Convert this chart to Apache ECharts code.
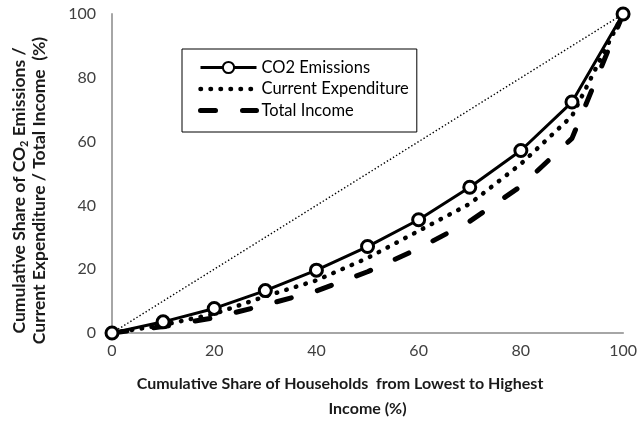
<!DOCTYPE html>
<html>
<head>
<meta charset="utf-8">
<script src="https://cdn.jsdelivr.net/npm/echarts@6/dist/echarts.min.js"></script>
<style>
  html, body { margin: 0; padding: 0; background: #fff; }
  #chart { width: 640px; height: 424px; }
</style>
</head>
<body>
<div id="chart"></div>
<script>
// Cumulative share of households, lowest to highest income (%)
const householdShare = [0, 10, 20, 30, 40, 50, 60, 70, 80, 90, 100];
// Cumulative shares (%) for each measure
const co2Emissions = [0, 3.5, 7.7, 13.3, 19.7, 27.1, 35.5, 45.7, 57.2, 72.4, 100];
const currentExpenditure = [0, 2.5, 6.0, 11.5, 16.5, 23.5, 32.0, 40.5, 53.0, 68.0, 100];
const totalIncome = [0, 2.0, 4.8, 8.8, 13.2, 19.2, 26.5, 35.0, 46.0, 61.0, 100];
// Line of perfect equality
const equalityLine = [0, 100];
const yTicks = [0, 20, 40, 60, 80, 100];

const pairs = (ys) => householdShare.map((x, i) => [x, ys[i]]);

const FONT = 'Lato, "Open Sans", sans-serif';
const dottedStyle = { color: '#000', width: 4.5, type: [0.5, 9.5], cap: 'round' };
const dashedStyle = { color: '#000', width: 5, type: [15, 27], cap: 'round' };
const solidStyle = { color: '#000', width: 3 };

const chart = echarts.init(document.getElementById('chart'), null, { renderer: 'canvas' });

chart.setOption({
  animation: false,
  backgroundColor: '#ffffff',
  textStyle: { fontFamily: FONT },
  grid: { left: 112, right: 13, top: 14, bottom: 91, containLabel: false },
  legend: {
    orient: 'vertical',
    left: 182,
    top: 49,
    padding: [10, 8, 13, 16],
    itemGap: 4.5,
    itemWidth: 56,
    itemHeight: 14,
    borderColor: '#000',
    borderWidth: 1,
    backgroundColor: '#fff',
    textStyle: { fontFamily: FONT, fontSize: 16.5, color: '#000' },
    data: [
      { name: 'CO2 Emissions', lineStyle: solidStyle },
      // no marker on the dotted and dashed legend keys
      { name: 'Current Expenditure', itemStyle: { opacity: 0 }, lineStyle: dottedStyle },
      { name: 'Total Income', itemStyle: { opacity: 0 }, lineStyle: dashedStyle }
    ]
  },
  xAxis: {
    type: 'value',
    min: 0, max: 100, interval: 20,
    axisLine: { show: true, lineStyle: { color: '#a6a6a6', width: 2 } },
    axisTick: { show: false },
    splitLine: { show: false },
    axisLabel: { fontFamily: FONT, fontSize: 16, color: '#404040', margin: 10 },
    name: '{a|Cumulative Share of Households  from Lowest to Highest}\n{b|Income (%)}',
    nameLocation: 'middle',
    nameGap: 38,
    nameTextStyle: {
      rich: {
        a: { fontFamily: FONT, fontSize: 16, fontWeight: 'bold', color: '#1a1a1a', lineHeight: 25, padding: [0, 55, 0, 0] },
        b: { fontFamily: FONT, fontSize: 16, fontWeight: 'bold', color: '#1a1a1a', lineHeight: 25 }
      }
    }
  },
  yAxis: {
    type: 'value',
    min: 0, max: 100, interval: 20,
    axisLine: { show: true, lineStyle: { color: '#a6a6a6', width: 2 } },
    axisTick: { show: false },
    splitLine: { show: false },
    axisLabel: { fontFamily: FONT, fontSize: 16, color: '#404040', margin: 16,
      formatter: (v) => (yTicks.includes(v) ? String(v) : '') },
    name: '{t|Cumulative Share of CO}{s|2}{t| Emissions /}\n{t|Current Expenditure / Total Income  (%)}',
    nameLocation: 'middle',
    nameRotate: 90,
    nameGap: 62,
    nameTextStyle: {
      padding: [0, 34, 0, 0],
      rich: {
        t: { fontFamily: FONT, fontSize: 17.5, fontWeight: 'bold', color: '#1a1a1a', lineHeight: 20.5 },
        s: { fontFamily: FONT, fontSize: 11, fontWeight: 'bold', color: '#1a1a1a', lineHeight: 20.5, verticalAlign: 'bottom', padding: [6, 0, 0, 0] }
      }
    }
  },
  series: [
    {
      name: 'Equality',
      type: 'line',
      data: [[0, equalityLine[0]], [100, equalityLine[1]]],
      showSymbol: false,
      silent: true,
      lineStyle: { color: '#000', width: 1.4, type: [1.4, 2.2] },
      z: 1
    },
    {
      name: 'Total Income',
      type: 'line',
      data: pairs(totalIncome),
      showSymbol: false,
      symbol: 'none',
      itemStyle: { color: '#000' },
      lineStyle: dashedStyle,
      z: 2
    },
    {
      name: 'Current Expenditure',
      type: 'line',
      data: pairs(currentExpenditure),
      showSymbol: false,
      symbol: 'none',
      itemStyle: { color: '#000' },
      lineStyle: dottedStyle,
      z: 3
    },
    {
      name: 'CO2 Emissions',
      type: 'line',
      data: pairs(co2Emissions),
      symbol: 'circle',
      symbolSize: 12,
      itemStyle: { color: '#fff', borderColor: '#000', borderWidth: 3 },
      lineStyle: solidStyle,
      z: 4
    }
  ]
});
</script>
</body>
</html>
